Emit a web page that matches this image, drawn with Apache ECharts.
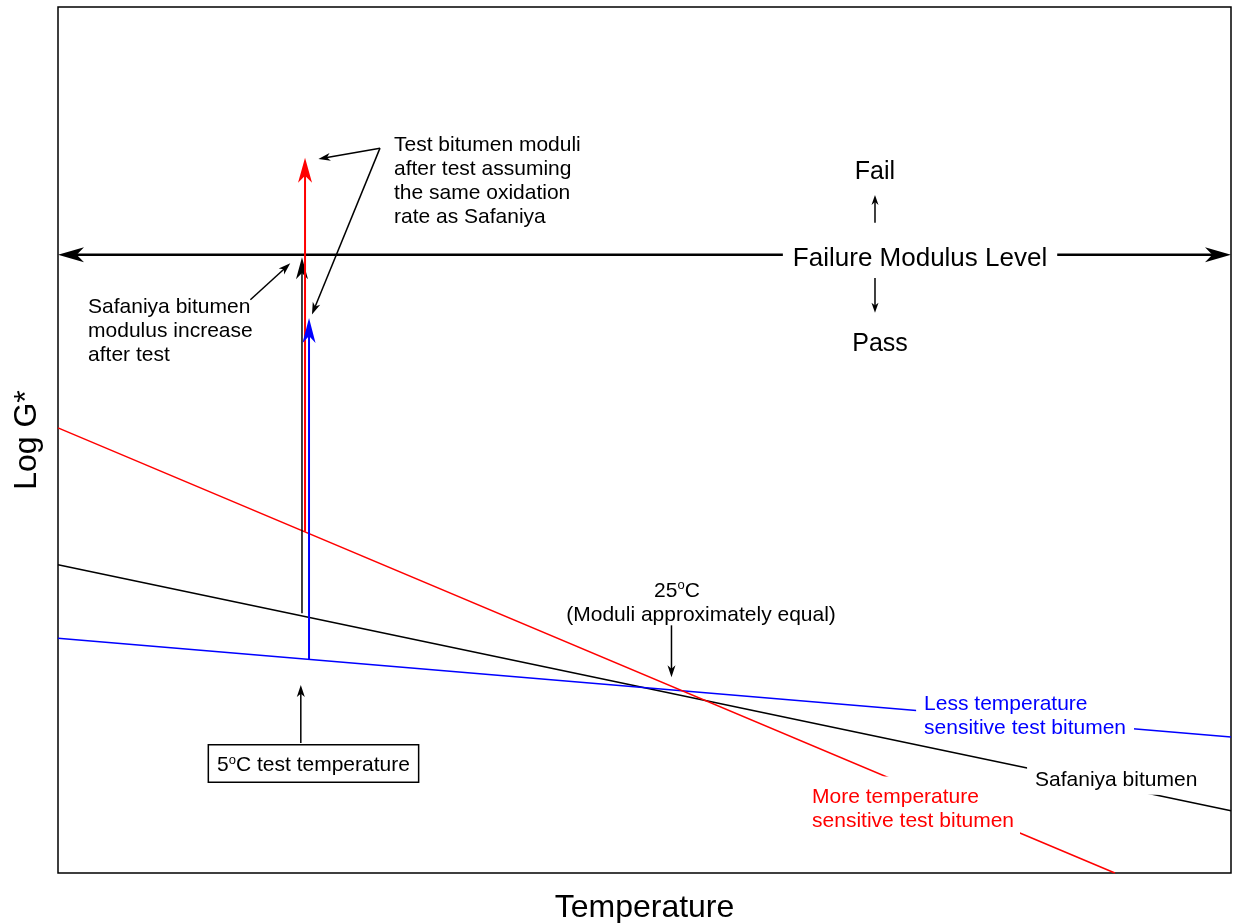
<!DOCTYPE html>
<html>
<head>
<meta charset="utf-8">
<script src="https://cdn.jsdelivr.net/npm/echarts@6/dist/echarts.min.js"></script>
<style>
  html, body { margin: 0; padding: 0; background: #fff; }
  #chart { width: 1235px; height: 923px; }
</style>
</head>
<body>
<div id="chart"></div>
<script>
// schematic: temperature 0..100, log G* 0..100 (arbitrary units)
const safaniya = [[0, 35.6], [100, 7.2]]
const lessSensitive = [[0, 27.1], [100, 15.7]]
const moreSensitive = [[0, 51.4], [90.1, 0]]
const failureLevel = 71.4

// modulus increase after test at 5C: [temp, from, to]
const safaniyaRise = [20.8, 30.0, 71.1]
const moreRise = [21.06, 39.4, 82.6]
const lessRise = [21.4, 24.7, 64.1]

// pointer arrows [x1, y1, x2, y2]
const pointers = [
    [27.45, 83.7, 22.2, 82.45],
    [27.45, 83.7, 21.65, 64.5],
    [16.4, 66.2, 19.8, 70.4],
    [52.3, 28.6, 52.3, 22.6],
    [20.7, 15.0, 20.7, 21.7]
]
const passFail = [
    [69.65, 75.1, 69.65, 78.3],
    [69.65, 68.7, 69.65, 64.7]
]

const FONT = "'Liberation Sans', Arial, sans-serif"

let chart = echarts.init(document.getElementById("chart"))

function arrowSeries(data, color, width, headLen, headW, both) {
    return {
        type: "custom",
        coordinateSystem: "cartesian2d",
        silent: true,
        z: 3,
        encode: { x: [0, 2], y: [1, 3] },
        data: data,
        renderItem: function (params, api) {
            let p1 = api.coord([api.value(0), api.value(1)])
            let p2 = api.coord([api.value(2), api.value(3)])
            let dx = p2[0] - p1[0], dy = p2[1] - p1[1]
            let len = Math.sqrt(dx * dx + dy * dy)
            let ux = dx / len, uy = dy / len
            function head(tip, sx, sy) {
                let bx = tip[0] - sx * headLen, by = tip[1] - sy * headLen
                let nx = -sy * headW / 2, ny = sx * headW / 2
                return {
                    type: "polygon",
                    shape: { points: [tip, [bx + nx, by + ny], [tip[0] - sx * headLen * 0.72, tip[1] - sy * headLen * 0.72], [bx - nx, by - ny]] },
                    style: { fill: color }
                }
            }
            let a = both ? [p1[0] + ux * headLen * 0.6, p1[1] + uy * headLen * 0.6] : p1
            let b = [p2[0] - ux * headLen * 0.6, p2[1] - uy * headLen * 0.6]
            let children = [{
                type: "line",
                shape: { x1: a[0], y1: a[1], x2: b[0], y2: b[1] },
                style: { stroke: color, lineWidth: width }
            }, head(p2, ux, uy)]
            if (both) children.push(head(p1, -ux, -uy))
            return { type: "group", children: children }
        }
    }
}

function lineSeries(data, color) {
    return {
        type: "line",
        data: data,
        symbol: "none",
        silent: true,
        z: 2,
        lineStyle: { color: color, width: 1.5 }
    }
}

const baseLabel = {
    show: true,
    opacity: 1,
    fontFamily: FONT,
    fontSize: 21,
    lineHeight: 24,
    color: "#000",
    textBorderWidth: 0,
    rich: { sup: { fontSize: 13, lineHeight: 13, verticalAlign: "top", fontFamily: FONT } }
}

function note(x, y, text, extra) {
    return {
        value: [x, y],
        label: Object.assign({}, baseLabel, { formatter: text }, extra)
    }
}

const notes = [
    note(28.64, 79.9, "Test bitumen moduli\nafter test assuming\nthe same oxidation\nrate as Safaniya", { position: "right", distance: 0, lineHeight: 24 }),
    note(2.56, 62.55, "Safaniya bitumen\nmodulus increase\nafter test", { position: "right", distance: 0 }),
    note(69.65, 80.9, "Fail", { position: "inside", fontSize: 25 }),
    note(70.08, 61.1, "Pass", { position: "inside", fontSize: 25 }),
    note(73.49, 71.0, "Failure Modulus Level", { position: "inside", fontSize: 26, backgroundColor: "#fff", padding: [4, 10, 2, 10] }),
    note(52.77, 32.55, "25{sup|o}C", { position: "inside" }),
    note(54.82, 29.75, "(Moduli approximately equal)", { position: "inside" }),
    note(21.78, 12.64, "5{sup|o}C test temperature", { position: "inside", backgroundColor: "#fff", borderColor: "#000", borderWidth: 1.5, padding: [8, 8, 4, 8] }),
    note(73.15, 18.05, "Less temperature\nsensitive test bitumen", { position: "right", distance: 0, color: "#0000ff", backgroundColor: "#fff", padding: [2, 8] }),
    note(82.61, 10.7, "Safaniya bitumen", { position: "right", distance: 0, backgroundColor: "#fff", padding: [2, 8, 3, 8] }),
    note(63.77, 7.68, "More temperature\nsensitive test bitumen", { position: "right", distance: 0, color: "#ff0000", backgroundColor: "#fff", padding: [9, 6, 3, 6] })
]

let options = {
    animation: false,
    backgroundColor: "#fff",
    grid: {
        left: 58, right: 4, top: 7, bottom: 50,
        outerBoundsMode: "none",
        show: true, borderColor: "#000", borderWidth: 1.5, backgroundColor: "#fff"
    },
    xAxis: {
        type: "value", min: 0, max: 100,
        name: "Temperature", nameLocation: "middle", nameGap: 19,
        nameTextStyle: { fontFamily: FONT, fontSize: 32, color: "#000" },
        axisLine: { show: false }, axisTick: { show: false },
        axisLabel: { show: false }, splitLine: { show: false }
    },
    yAxis: {
        type: "value", min: 0, max: 100,
        name: "Log G*", nameLocation: "middle", nameGap: 15, nameRotate: 90,
        nameTextStyle: { fontFamily: FONT, fontSize: 32, color: "#000" },
        axisLine: { show: false }, axisTick: { show: false },
        axisLabel: { show: false }, splitLine: { show: false }
    },
    series: [
        lineSeries(safaniya, "#000"),
        lineSeries(lessSensitive, "#0000ff"),
        lineSeries(moreSensitive, "#ff0000"),
        arrowSeries([[0, failureLevel, 100, failureLevel]], "#000", 2.5, 26, 15, true),
        arrowSeries([[safaniyaRise[0], safaniyaRise[1], safaniyaRise[0], safaniyaRise[2]]], "#000", 1.5, 22, 12, false),
        arrowSeries([[moreRise[0], moreRise[1], moreRise[0], moreRise[2]]], "#ff0000", 2, 25, 14, false),
        arrowSeries([[lessRise[0], lessRise[1], lessRise[0], lessRise[2]]], "#0000ff", 2, 25, 13, false),
        arrowSeries(pointers, "#000", 1.5, 12, 8, false),
        arrowSeries(passFail, "#000", 1.5, 10, 7, false),
        {
            type: "scatter",
            symbolSize: 0.1,
            itemStyle: { color: "rgba(0,0,0,0)", opacity: 1 },
            silent: true,
            z: 10,
            data: notes
        }
    ]
}
chart.setOption(options)
</script>
</body>
</html>
